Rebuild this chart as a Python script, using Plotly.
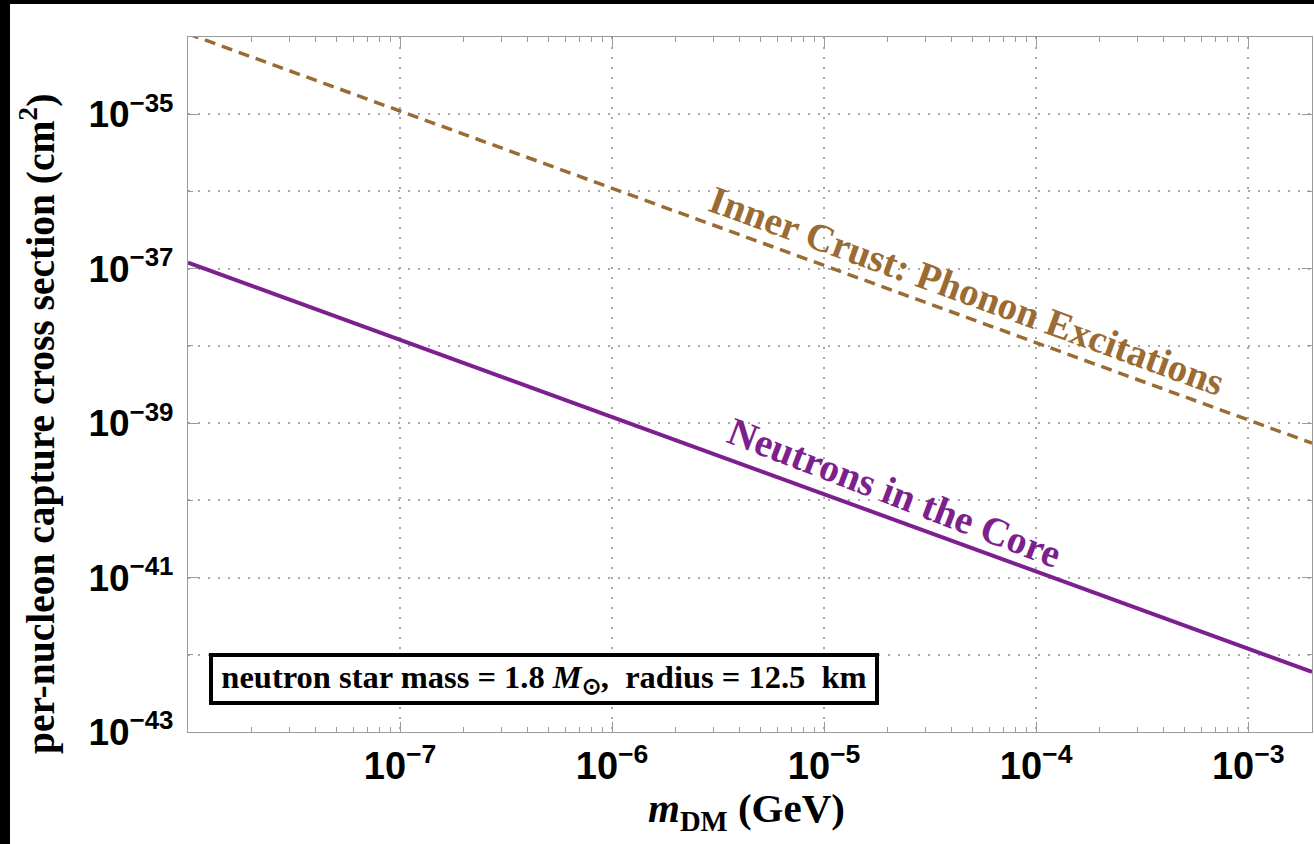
import plotly.graph_objects as go

# ---- data ----
m_dm_gev = [1e-8, 2e-3]
sigma_core = [1.2e-37, 6.0e-43]      # Neutrons in the Core
sigma_crust = [1.1e-34, 5.5e-40]     # Inner Crust: Phonon Excitations

x_tick_exps = [-7, -6, -5, -4, -3]
y_major_exps = [-43, -41, -39, -37, -35]
y_minor_exps = [-42, -40, -38, -36]

PURPLE = "#7E1F8E"
BROWN = "#9A6B32"
FRAME = "#9a9a9a"
GRID = "#a8a8a8"
SERIF = "Liberation Serif"
SANS = "Liberation Sans"

W, H = 1314, 844
L, R, T, B = 188, 2, 37, 112
PW, PH = W - L - R, H - T - B


def px(x):
    return (x - L) / PW


def py(y):
    return (H - B - y) / PH


fig = go.Figure()
fig.add_trace(go.Scatter(x=m_dm_gev, y=sigma_crust, mode="lines",
                         line=dict(color=BROWN, width=3.5, dash="11px,7px"),
                         showlegend=False, hoverinfo="skip"))
fig.add_trace(go.Scatter(x=m_dm_gev, y=sigma_core, mode="lines",
                         line=dict(color=PURPLE, width=4),
                         showlegend=False, hoverinfo="skip"))

x_minor = [k * 10.0 ** e for e in range(-8, -2) for k in range(2, 10)]

fig.update_xaxes(
    type="log", range=[-8, -2.699],
    tickmode="array",
    tickvals=[10.0 ** e for e in x_tick_exps],
    ticktext=[f"<b>10<sup>\u2212{-e}</sup></b>" for e in x_tick_exps],
    tickfont=dict(family=SANS, size=38, color="black"),
    ticks="inside", ticklen=10, tickcolor=FRAME, tickwidth=1,
    showline=True, linecolor=FRAME, linewidth=1.2, mirror="allticks",
    showgrid=True, gridcolor=GRID, gridwidth=1.5, griddash="2px,8px",
    minor=dict(tickmode="array", tickvals=x_minor, ticks="inside", ticklen=5,
               tickcolor=FRAME, showgrid=False),
    zeroline=False,
)
fig.update_yaxes(
    type="log", range=[-43, -34],
    tickmode="array",
    tickvals=[10.0 ** e for e in y_major_exps],
    ticktext=[f"<b>10<sup>\u2212{-e}</sup></b>" for e in y_major_exps],
    tickfont=dict(family=SANS, size=37, color="black"),
    ticks="inside", ticklen=10, tickcolor=FRAME, tickwidth=1,
    showline=True, linecolor=FRAME, linewidth=1.2, mirror="allticks",
    showgrid=True, gridcolor=GRID, gridwidth=1.5, griddash="2px,8px",
    minor=dict(tickmode="array", tickvals=[10.0 ** e for e in y_minor_exps],
               ticks="inside", ticklen=5, tickcolor=FRAME,
               showgrid=True, gridcolor=GRID, gridwidth=1.5, griddash="2px,8px"),
    zeroline=False, ticklabelstandoff=6,
)

annotations = [
    dict(text="<b>per-nucleon capture cross section (cm<sup>2</sup>)</b>",
         x=px(37), y=py(424), xref="paper", yref="paper", textangle=-90,
         showarrow=False, font=dict(family=SERIF, size=39.5, color="black"),
         xanchor="center", yanchor="middle"),
    dict(text="<b><i>m</i><sub>DM</sub> (GeV)</b>",
         x=px(746), y=py(811), xref="paper", yref="paper",
         showarrow=False, font=dict(family=SERIF, size=41, color="black"),
         xanchor="center", yanchor="middle"),
    dict(text="<b>neutron star mass = 1.8 <i>M</i><sub>\u2299</sub>,  radius = 12.5  km</b>",
         x=px(544), y=py(679), xref="paper", yref="paper",
         showarrow=False, font=dict(family=SERIF, size=32.5, color="black"),
         xanchor="center", yanchor="middle",
         bordercolor="black", borderwidth=4, borderpad=2, bgcolor="white",
         width=658, height=40),
    dict(text="<b>Inner Crust: Phonon Excitations</b>",
         x=px(967), y=py(290), xref="paper", yref="paper", textangle=20,
         showarrow=False, font=dict(family=SERIF, size=39, color=BROWN),
         xanchor="center", yanchor="middle"),
    dict(text="<b>Neutrons in the Core</b>",
         x=px(895), y=py(493), xref="paper", yref="paper", textangle=21,
         showarrow=False, font=dict(family=SERIF, size=39.5, color=PURPLE),
         xanchor="center", yanchor="middle"),
]

shapes = [
    dict(type="rect", xref="paper", yref="paper", x0=px(-5), x1=px(W + 5),
         y0=py(4), y1=py(-5), fillcolor="black", line=dict(width=0)),
    dict(type="rect", xref="paper", yref="paper", x0=px(-5), x1=px(10),
         y0=py(H + 5), y1=py(-5), fillcolor="black", line=dict(width=0)),
]

fig.update_layout(
    width=W, height=H,
    margin=dict(l=L, r=R, t=T, b=B),
    paper_bgcolor="white", plot_bgcolor="white",
    annotations=annotations, shapes=shapes,
    showlegend=False,
)

fig.write_html("out.html")
